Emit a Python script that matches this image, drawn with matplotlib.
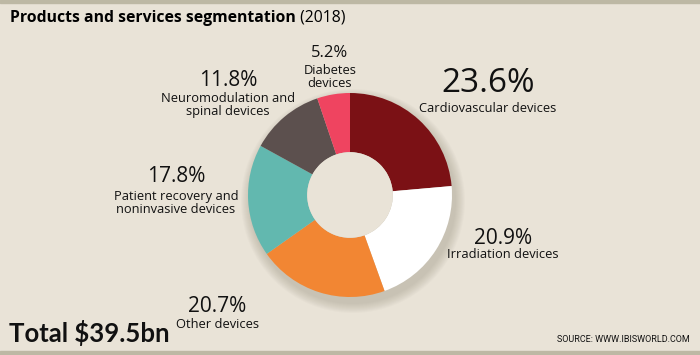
import matplotlib.pyplot as plt
from matplotlib.patches import Circle

labels = ["Cardiovascular devices", "Irradiation devices", "Other devices",
          "Patient recovery and\nnoninvasive devices",
          "Neuromodulation and\nspinal devices", "Diabetes\ndevices"]
shares = [23.6, 20.9, 20.7, 17.8, 11.8, 5.2]
colors = ["#7B1115", "#FFFFFF", "#F28633", "#62B8AF", "#5C504E", "#EF4460"]

H = 355
bg = "#E9E3D7"
fig = plt.figure(figsize=(7, 3.55), dpi=100)
fig.patch.set_facecolor(bg)
ax = fig.add_axes([0, 0, 1, 1])

cx, cy, r = 350, H - 195, 102

# soft shadow
for i in range(10):
    ax.add_patch(Circle((cx + 3, cy - 6), r + 10 - i, color="#8a8270", alpha=0.035, lw=0, zorder=1))

ax.pie(shares, colors=colors, startangle=90, counterclock=False, center=(cx, cy), radius=r,
       wedgeprops=dict(width=r * 0.58, linewidth=0, zorder=2), frame=True)
ax.add_patch(Circle((cx, cy), r * 0.42, color=bg, lw=0, zorder=3))
ax.set_xlim(0, 700)
ax.set_ylim(0, H)
ax.set_aspect("equal")
ax.axis("off")

# top / bottom strips
ax.axhspan(H - 3, H, color="#BDB8A4", zorder=0)
ax.axhspan(0, 4, color="#BDB8A4", zorder=0)

font = "Open Sans"

t = ax.text(10, H - 18, "Products and services segmentation", fontsize=11.3, fontweight="bold",
            family=font, va="center", ha="left")
ax.annotate(" (2018)", xy=(1, 0.5), xycoords=t, fontsize=11.3, family=font, va="center", ha="left")

# label positions (pixel, from top): x, pct y, label y, pct size
pos = [(488, 84, 109, 24), (503, 238, 255, 15), (217, 307, 324, 15),
       (176, 177, 203, 15), (228, 81, 105, 15), (330, 53, 77, 12)]
for (x, py, ly, fs), s, lab in zip(pos, shares, labels):
    ax.text(x, H - py, f"{s}%", fontsize=fs, family=font, ha="center", va="center", color="#111111")
    ax.text(x, H - ly, lab, fontsize=9.3, family=font, ha="center", va="center",
            color="#111111", linespacing=1.0)

ax.text(9, H - 342, "Total $39.5bn", fontsize=18.5, fontweight="bold", family="Lato",
        va="baseline", ha="left", color="#111111")
ax.text(690, H - 340, "SOURCE: WWW.IBISWORLD.COM", fontsize=6.5, family="Roboto",
        va="center", ha="right", color="#111111")

fig.savefig("out.png", dpi=100, facecolor=bg)
